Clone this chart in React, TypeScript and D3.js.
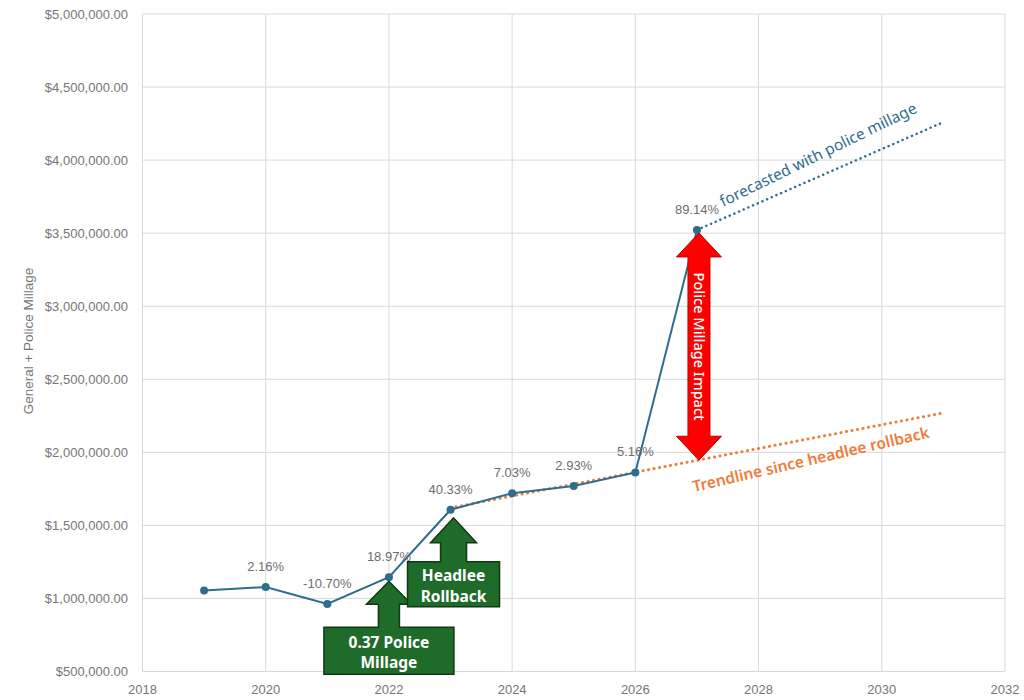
import React, { useEffect } from 'react';
import * as d3 from 'd3';

// yearly totals (general + police millage)
const years = [2019, 2020, 2021, 2022, 2023, 2024, 2025, 2026, 2027];
const totals = [1055000, 1078000, 962500, 1145000, 1607000, 1720000, 1770000, 1862000, 3522000];
const changeLabels = ['', '2.16%', '-10.70%', '18.97%', '40.33%', '7.03%', '2.93%', '5.16%', '89.14%'];

// dotted projections
const forecastYears = [2027, 2031];
const forecastValues = [3522000, 4260000];
const trendYears = [2023, 2031];
const trendValues = [1620000, 2270000];

// impact arrow spans from forecast value to trendline value in 2027
const impactYear = 2027;
const impactValues = [3522000, 1946000];

const xTicks = [2018, 2020, 2022, 2024, 2026, 2028, 2030, 2032];
const yTicks = [500000, 1000000, 1500000, 2000000, 2500000, 3000000, 3500000, 4000000, 4500000, 5000000];

const W = 1024;
const H = 700;
const lineColor = '#2e6d8e';
const orange = '#f07c3a';
const green = '#1f6b29';
const greenDark = '#0f3a15';
const labelGray = '#6e6e6e';
const font = '"Liberation Sans", Arial, sans-serif';
const noteFont = '"Noto Sans", "Open Sans", sans-serif';

const App: React.FC = () => {
  useEffect(() => {
    document.body.style.margin = '0';
  }, []);

  const x = d3.scaleLinear().domain([2018, 2032]).range([142.5, 1005]);
  const y = d3.scaleLinear().domain([500000, 5000000]).range([671.5, 14]);

  const line = d3.line<number>()
    .x((_, i) => x(years[i]))
    .y(d => y(d));

  const fmt = (v: number) => '$' + d3.format(',.2f')(v);

  // up-arrow callout (box with arrow pointing up at tip)
  const callout = (cx: number, tipY: number, headH: number, headW: number, shaftW: number,
    shaftH: number, boxW: number, boxH: number) => {
    const hb = tipY + headH;
    const bt = hb + shaftH;
    const bb = bt + boxH;
    return [
      [cx - boxW / 2, bb], [cx - boxW / 2, bt], [cx - shaftW / 2, bt], [cx - shaftW / 2, hb],
      [cx - headW / 2, hb], [cx, tipY], [cx + headW / 2, hb], [cx + shaftW / 2, hb],
      [cx + shaftW / 2, bt], [cx + boxW / 2, bt], [cx + boxW / 2, bb],
    ].map(p => p.join(',')).join(' ');
  };

  const mx = x(2022);
  const my = y(totals[3]) + 4;
  const hx = x(2023) + 3;
  const hy = y(totals[4]) + 8;

  const ix = x(impactYear) + 2;
  const iTop = y(impactValues[0]) + 3;
  const iBot = y(impactValues[1]);
  const headH = 24;
  const headW = 45;
  const shaftW = 22;
  const impactPts = [
    [ix, iTop], [ix + headW / 2, iTop + headH], [ix + shaftW / 2, iTop + headH],
    [ix + shaftW / 2, iBot - headH], [ix + headW / 2, iBot - headH], [ix, iBot],
    [ix - headW / 2, iBot - headH], [ix - shaftW / 2, iBot - headH],
    [ix - shaftW / 2, iTop + headH], [ix - headW / 2, iTop + headH],
  ].map(p => p.join(',')).join(' ');

  return (
    <svg width={W} height={H} style={{ display: 'block', background: '#fff' }}>
      {/* grid */}
      <g stroke="#d9d9d9" strokeWidth={1}>
        {yTicks.map(t => (
          <line key={'h' + t} x1={x(2018)} x2={x(2032)} y1={y(t)} y2={y(t)} />
        ))}
        {xTicks.map(t => (
          <line key={'v' + t} x1={x(t)} x2={x(t)} y1={y(5000000)} y2={y(500000)} />
        ))}
      </g>

      {/* axis labels */}
      <g fontFamily={font} fontSize={13} fill="#767676">
        {yTicks.map(t => (
          <text key={'yl' + t} x={128} y={y(t)} textAnchor="end" dominantBaseline="central">{fmt(t)}</text>
        ))}
        {xTicks.map(t => (
          <text key={'xl' + t} x={x(t)} y={694} textAnchor="middle">{t}</text>
        ))}
      </g>
      <text transform="translate(33,341) rotate(-90)" fontFamily={font} fontSize={13.5} fill="#767676"
        textAnchor="middle">General + Police Millage</text>

      {/* trendline since headlee rollback */}
      <line x1={x(trendYears[0])} y1={y(trendValues[0])} x2={x(trendYears[1])} y2={y(trendValues[1])}
        stroke={orange} strokeWidth={3} strokeDasharray="0.1 5.5" strokeLinecap="round" />

      {/* forecast */}
      <line x1={x(forecastYears[0])} y1={y(forecastValues[0])} x2={x(forecastYears[1])} y2={y(forecastValues[1])}
        stroke={lineColor} strokeWidth={2.5} strokeDasharray="0.1 5" strokeLinecap="round" />

      {/* main series */}
      <path d={line(totals) || ''} fill="none" stroke={lineColor} strokeWidth={2} />
      {totals.map((v, i) => (
        <circle key={'p' + i} cx={x(years[i])} cy={y(v)} r={4} fill={lineColor} />
      ))}
      <g fontFamily={font} fontSize={13} fill={labelGray} textAnchor="middle">
        {totals.map((v, i) => changeLabels[i] ? (
          <text key={'l' + i} x={x(years[i])} y={y(v) - 16}>{changeLabels[i]}</text>
        ) : null)}
      </g>

      {/* police millage impact arrow */}
      <polygon points={impactPts} fill="#ff0000" stroke="#c00000" strokeWidth={1} />
      <text transform={`translate(${ix - 5},${(iTop + iBot) / 2}) rotate(90)`} fontFamily={noteFont}
        fontSize={14.5} fontWeight={500} fill="#fff" textAnchor="middle">Police Millage Impact</text>

      {/* green callouts */}
      <polygon points={callout(mx, my, 23, 45, 21, 23, 130, 47)} fill={green} stroke={greenDark} strokeWidth={1.5} />
      <g fontFamily={noteFont} fontSize={15.5} fontWeight={700} fill="#fff" textAnchor="middle">
        <text x={mx} y={my + 46 + 21}>0.37 Police</text>
        <text x={mx} y={my + 46 + 41}>Millage</text>
      </g>
      <polygon points={callout(hx, hy, 25, 46, 26, 19, 92, 45)} fill={green} stroke={greenDark} strokeWidth={1.5} />
      <g fontFamily={noteFont} fontSize={15.5} fontWeight={700} fill="#fff" textAnchor="middle">
        <text x={hx} y={hy + 44 + 19}>Headlee</text>
        <text x={hx} y={hy + 44 + 40}>Rollback</text>
      </g>

      {/* line annotations */}
      <text transform="translate(723,207) rotate(-26)" fontFamily={noteFont} fontSize={15.5} fill={lineColor}>
        forecasted with police millage
      </text>
      <text transform="translate(694,492) rotate(-13)" fontFamily={noteFont} fontSize={15.5} fontWeight={600}
        fill={orange}>
        Trendline since headlee rollback
      </text>
    </svg>
  );
};

export default App;
